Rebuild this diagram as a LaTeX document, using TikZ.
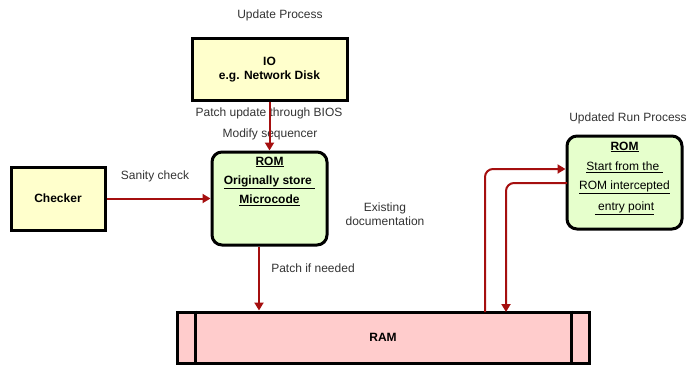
\documentclass[tikz,border=0pt]{standalone}
\usepackage{fontspec}
\setmainfont{Liberation Sans}
\usetikzlibrary{arrows.meta}
\definecolor{arr}{HTML}{A50F0F}
\definecolor{yel}{HTML}{FFFFCC}
\definecolor{grn}{HTML}{E6FFCC}
\definecolor{ramc}{HTML}{FFCCCC}
\begin{document}
\begin{tikzpicture}[x=1pt,y=-1pt,
  lbl/.style={font=\fontsize{12}{13}\selectfont, text=black!80, align=center, inner sep=0pt},
  bf/.style={font=\bfseries\fontsize{12}{13}\selectfont, text=black},
  ybox/.style={draw=black, line width=3pt, fill=yel, font=\bfseries\fontsize{12}{14.5}\selectfont, align=center},
  gbox/.style={draw=black, line width=3pt, fill=grn, rounded corners=10pt},
  conn/.style={draw=arr, line width=2pt, -{Triangle[length=8pt,width=9pt]}}]
\useasboundingbox (0,0) rectangle (688,365);
% IO
\node[ybox, minimum width=155pt, minimum height=62pt, inner sep=0pt] (io) at (269.5,69.5) {IO\\e.g. Network Disk};
\node[lbl] (up) at (280,15) {Update Process};
% ROM
\node[gbox, minimum width=115pt, minimum height=93pt, inner sep=0pt] (rom) at (269.5,198.5) {};
\node[lbl, bf] (r1) at (269.5,162) {\underline{ROM}};
\node[lbl, bf] (r2) at (269.5,182) {\underline{Originally store\ }};
\node[lbl, bf] (r3) at (269.5,200) {\underline{Microcode}};
% Checker
\node[ybox, minimum width=94pt, minimum height=63pt, inner sep=0pt] (chk) at (58,198.5) {Checker};
% ROM2
\node[gbox, minimum width=115pt, minimum height=93pt, inner sep=0pt] (rom2) at (624.5,182.5) {};
\node[lbl, bf] (s1) at (624.5,147) {\underline{ROM}};
\node[lbl, text=black] (s2) at (624.5,167) {\underline{Start from the\ }};
\node[lbl, text=black] (s3) at (624.5,187) {\underline{ROM intercepted}};
\node[lbl, text=black] (s4) at (624.5,208) {\underline{\ entry point}};
\node[lbl] (urp) at (628,118) {Updated Run Process};
% RAM
\node[draw=black, line width=3pt, fill=ramc, minimum width=412pt, minimum height=51pt, inner sep=0pt, font=\bfseries\fontsize{12}{13}\selectfont] (ram) at (383,337.5) {RAM};
\draw[black, line width=2.4pt] ([xshift=20pt]ram.north west) -- ([xshift=20pt]ram.south west);
\draw[black, line width=2.4pt] ([xshift=-19pt]ram.north east) -- ([xshift=-19pt]ram.south east);
% labels
\node[lbl] (l1) at (269,113) {Patch update through BIOS};
\node[lbl] (l2) at (270,134) {Modify sequencer};
\node[lbl] (l3) at (385,214) {Existing\\[1pt]documentation};
\node[lbl] (l4) at (313,268) {Patch if needed};
\node[lbl] (l5) at (155,176) {Sanity check};
% connectors
\draw[conn] (io.south) -- (rom.north);
\draw[conn] (chk.east) -- (rom.west);
\coordinate (c1) at ([xshift=-10.5pt]rom.south);
\draw[conn] (c1) -- (c1 |- ram.north);
\coordinate (a1) at (485,312);
\coordinate (a2) at (485,169);
\draw[conn, rounded corners=8pt] (a1) -- (a2) -- (rom2.west |- a2);
\coordinate (b1) at (567,183);
\coordinate (b2) at (506,183);
\coordinate (b3) at (506,312);
\draw[conn, rounded corners=8pt] (b1) -- (b2) -- (b3);
\end{tikzpicture}
\end{document}
